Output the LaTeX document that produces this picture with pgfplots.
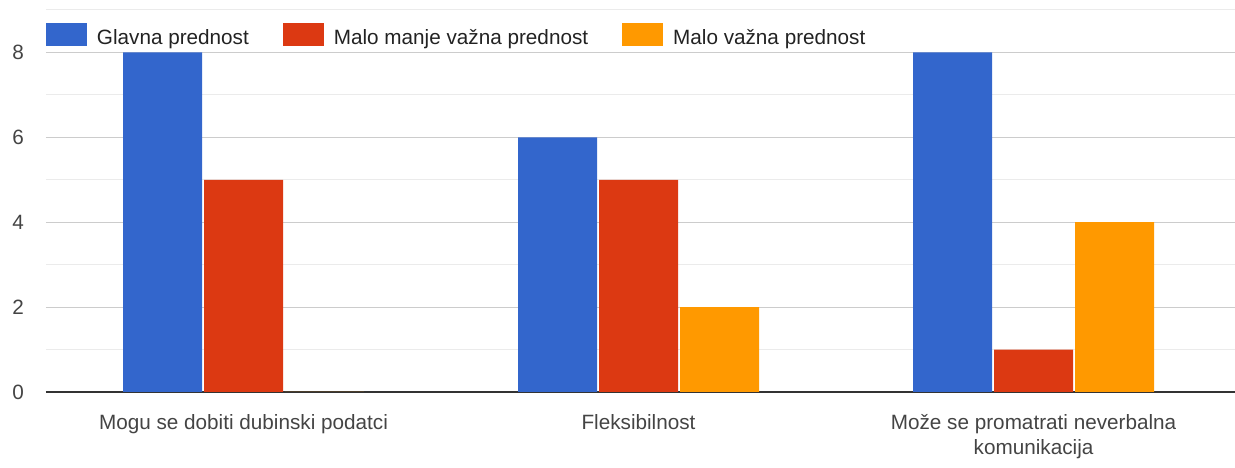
\documentclass[border=0pt]{standalone}
\usepackage{fontspec}
\setmainfont{Liberation Sans}
\usepackage{pgfplots}
\pgfplotsset{compat=1.18}
\definecolor{gblue}{HTML}{3366CC}
\definecolor{gred}{HTML}{DC3912}
\definecolor{gorange}{HTML}{FF9900}
\definecolor{txtdark}{HTML}{222222}
\definecolor{txtgray}{HTML}{444444}
\definecolor{gridmaj}{HTML}{CCCCCC}
\definecolor{gridmin}{HTML}{EBEBEB}
\definecolor{zeroline}{HTML}{333333}
\begin{document}
\begin{tikzpicture}
\path[use as bounding box] (0pt,0pt) rectangle (1235pt,468pt);
\begin{axis}[
  at={(46pt,76pt)}, anchor=south west,
  scale only axis, width=1189pt, height=382pt,
  xmin=-0.5, xmax=2.51, ymin=0, ymax=9,
  ybar,
  axis line style={draw=none},
  major tick length=0pt, minor tick length=0pt,
  xtick={0,1,2},
  xticklabels={Mogu se dobiti dubinski podatci, Fleksibilnost, {Može se promatrati neverbalna\\komunikacija}},
  xticklabel style={align=center, inner sep=0pt, yshift=-22pt, text=txtgray,
     font=\fontsize{20.7}{25}\selectfont},
  ytick={0,2,4,6,8},
  minor ytick={1,3,5,7,9},
  ymajorgrids, yminorgrids,
  major grid style={gridmaj, line width=1pt},
  minor grid style={gridmin, line width=1pt},
  extra y ticks={0}, extra y tick labels={},
  extra y tick style={major grid style={zeroline, line width=1.6pt}},
  yticklabel style={inner sep=0pt, xshift=-22pt, text=txtgray,
     font=\fontsize{20.7}{25}\selectfont},
  /pgf/number format/assume math mode=true,
  bar width=0.2,
  legend columns=3,
  legend style={at={(0,0.966)}, anchor=north west, draw=none, fill=none,
     inner sep=0pt, outer sep=0pt, nodes={inner sep=0pt, text=txtdark},
     font=\fontsize{20.7}{25}\selectfont,
     /tikz/every odd column/.append style={column sep=10pt},
     /tikz/every even column/.append style={column sep=34pt}},
]
\addplot[fill=gblue, draw=none, bar shift=-0.205,
  legend image code/.code={\fill[gblue] (0pt,-8pt) rectangle (41pt,15pt);}]
  coordinates {(0,8) (1,6) (2,8)};
\addlegendentry{Glavna prednost}
\addplot[fill=gred, draw=none, bar shift=0,
  legend image code/.code={\fill[gred] (0pt,-8pt) rectangle (41pt,15pt);}]
  coordinates {(0,5) (1,5) (2,1)};
\addlegendentry{Malo manje važna prednost}
\addplot[fill=gorange, draw=none, bar shift=0.205,
  legend image code/.code={\fill[gorange] (0pt,-8pt) rectangle (41pt,15pt);}]
  coordinates {(0,0) (1,2) (2,4)};
\addlegendentry{Malo važna prednost}
\end{axis}
\end{tikzpicture}
\end{document}
